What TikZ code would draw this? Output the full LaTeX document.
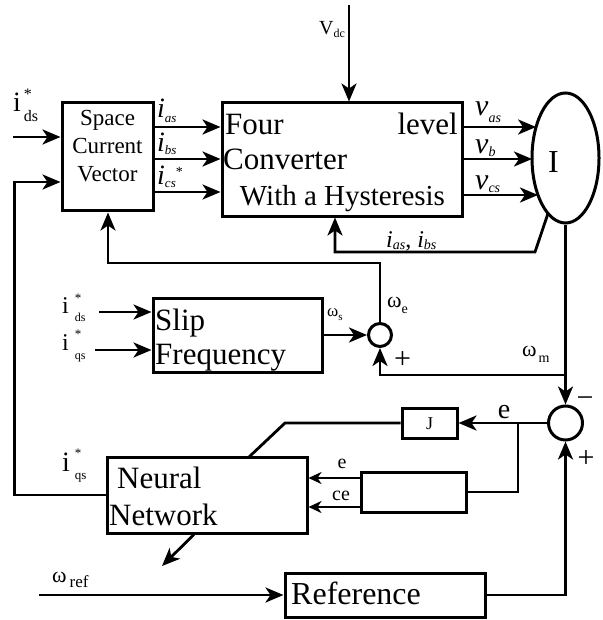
\documentclass[tikz,border=0pt]{standalone}
\usepackage{fontspec}
\setmainfont{Liberation Serif}
\usetikzlibrary{arrows.meta,shapes.geometric,calc}
\newcommand\fsz[1]{\fontsize{#1}{#1}\selectfont}
\begin{document}
\begin{tikzpicture}[x=1pt,y=-1pt,
  ln/.style={line width=2.8pt},
  arr/.style={ln,-{Stealth[length=18pt,width=15pt,inset=5pt]}},
  sarr/.style={ln,-{Stealth[length=13pt,width=12pt,inset=4pt]}},
  blk/.style={draw,line width=3pt,inner sep=0pt},
  txt/.style={inner sep=0pt,anchor=base west},
  ctxt/.style={inner sep=0pt,anchor=base},
  rtxt/.style={inner sep=0pt,anchor=base east}]
\useasboundingbox (0,0) rectangle (602,620);

% blocks
\node[blk,minimum width=91pt,minimum height=108pt] (scv) at (107.5,157) {};
\node[blk,minimum width=240pt,minimum height=113pt] (conv) at (342,159.5) {};
\node[blk,ellipse,minimum width=67pt,minimum height=130pt] (motor) at (565.5,158) {};
\node[blk,minimum width=169pt,minimum height=74pt] (slip) at (237.5,335) {};
\node[blk,circle,minimum size=23pt] (sum1) at (380,335) {};
\node[blk,circle,minimum size=34pt] (sum2) at (565.5,423) {};
\node[blk,minimum width=55pt,minimum height=30pt] (jbox) at (429.5,423) {};
\node[blk,minimum width=105pt,minimum height=40pt] (fbox) at (413.5,492) {};
\node[blk,minimum width=200pt,minimum height=76pt] (nn) at (207,495) {};
\node[blk,minimum width=200pt,minimum height=44pt] (ref) at (385,595) {};

% texts in blocks
\node[ctxt] (s1) at (107.5,126) {\fsz{23}Space};
\node[ctxt] (s2) at (107.5,154) {\fsz{23}Current};
\node[ctxt] (s3) at (107.5,182) {\fsz{23}Vector};
\node[txt] (c1) at (225,135) {\fsz{31}Four};
\node[rtxt] (c2) at (458,135) {\fsz{31}level};
\node[txt] (c3) at (223,170) {\fsz{31}Converter};
\node[ctxt] (c4) at (342.5,205) {\fsz{29}With a Hysteresis};
\node[ctxt] (mI) at (553.5,173) {\fsz{32}I};
\node[txt] (sl1) at (155,330) {\fsz{31}Slip};
\node[txt] (sl2) at (155,364) {\fsz{31}Frequency};
\node[txt] (n1) at (117,488) {\fsz{31}Neural};
\node[txt] (n2) at (109,525) {\fsz{31}Network};
\node[txt] (r1) at (291,604) {\fsz{32}Reference};
\node[ctxt] (jt) at (429.5,429.5) {\fsz{18}J};

% labels
\node[txt] (lids) at (13,112) {\fsz{28}i\hspace{3pt}\rlap{\raisebox{12pt}{\fsz{16}*}}\raisebox{-10pt}{\fsz{16}ds}};
\node[txt] (vdc) at (319,35) {\fsz{20}V\raisebox{-3pt}{\fsz{12}dc}};
\node[txt] (ias) at (157,118) {\fsz{28}\textit{i}\raisebox{-5pt}{\fsz{13}\textit{as}}};
\node[txt] (ibs) at (157,152) {\fsz{28}\textit{i}\raisebox{-3pt}{\fsz{13}\textit{bs}}};
\node[txt] (ics) at (157,185) {\fsz{28}\textit{i}\raisebox{-3pt}{\fsz{13}\textit{cs}}\raisebox{8pt}{\fsz{14}*}};
\node[txt] (vas) at (475,116) {\fsz{30}\textit{v}\raisebox{-7pt}{\fsz{14}\textit{as}}};
\node[txt] (vb) at (475,154) {\fsz{30}\textit{v}\raisebox{-3pt}{\fsz{14}\textit{b}}};
\node[txt] (vcs) at (475,190) {\fsz{30}\textit{v}\raisebox{-2pt}{\fsz{14}\textit{cs}}};
\node[txt] (ifb) at (386,247) {\fsz{24}\textit{i}\raisebox{-2pt}{\fsz{14}\textit{as}}\fsz{24}, \textit{i}\raisebox{-2pt}{\fsz{14}\textit{bs}}};
\node[txt] (sids) at (62,313) {\fsz{24}i\hspace{6pt}\rlap{\raisebox{11pt}{\fsz{13}*}}\raisebox{-8pt}{\fsz{12}ds}};
\node[txt] (siqs) at (62,350) {\fsz{24}i\hspace{6pt}\rlap{\raisebox{12pt}{\fsz{13}*}}\raisebox{-9pt}{\fsz{12}qs}};
\node[txt] (niqs) at (62,471) {\fsz{28}i\hspace{5pt}\rlap{\raisebox{14pt}{\fsz{13}*}}\raisebox{-8pt}{\fsz{13}qs}};
\node[txt] (ws) at (327,316) {\fsz{17}ω\raisebox{-4pt}{\fsz{11}s}};
\node[txt] (we) at (387,307) {\fsz{22}ω\raisebox{-6pt}{\fsz{14}e}};
\node[txt] (wm) at (522,356) {\fsz{22}ω\hspace{2pt}\raisebox{-6pt}{\fsz{14}m}};
\node[txt] (wref) at (52,582) {\fsz{22}ω\hspace{3pt}\raisebox{-5pt}{\fsz{17}ref}};
\node[ctxt] (ebig) at (504,418) {\fsz{28}e};
\node[ctxt] (esm) at (342,468) {\fsz{20}e};
\node[ctxt] (ce) at (341,500) {\fsz{20}ce};
\node[ctxt] (p1) at (402.5,368) {\fsz{30}+};
\node[ctxt] (p2) at (586,467.5) {\fsz{30}+};
\node[ctxt] (m1) at (585,407.5) {\fsz{30}−};

% coordinates
\coordinate (vdctop) at (349,5);
\coordinate (idsin) at (13,137);
\coordinate (sdin) at (99,312);
\coordinate (sqin) at (95,350);
\coordinate (lc1) at (14.5,495);
\coordinate (lc2) at (14.5,182);
\coordinate (mA) at (536.1,127);
\coordinate (mB) at (532,159);
\coordinate (mC) at (538,195);
\coordinate (fb1) at (548,213.4);
\coordinate (fb2) at (535,252);
\coordinate (fb3) at (335,252);
\coordinate (wel) at (108,263);
\coordinate (wmp) at (565.5,375);
\coordinate (br) at (518,423);
\coordinate (jk) at (285,423);
\coordinate (jn) at (249,457);
\coordinate (no2) at (162,566);
\coordinate (wr) at (39,595);

% connectors
\draw[arr] (vdctop) -- (vdctop |- conv.north);
\draw[arr] (idsin) -- (idsin -| scv.west);
\draw[arr] (sdin) -- (sdin -| slip.west);
\draw[arr] (sqin) -- (sqin -| slip.west);
\draw[arr] (nn.west) -- (lc1) -- (lc2) -- (lc2 -| scv.west);
\draw[arr] ([yshift=30pt]scv.east) -- ([yshift=30pt]scv.east -| conv.west);
\draw[arr] ([yshift=-2pt]scv.east) -- ([yshift=-2pt]scv.east -| conv.west);
\draw[arr] ([yshift=-35pt]scv.east) -- ([yshift=-35pt]scv.east -| conv.west);
\draw[arr] (mA -| conv.east) -- (mA);
\draw[arr] (mB -| conv.east) -- (mB);
\draw[arr] (mC -| conv.east) -- (mC);
\draw[arr] (fb1) -- (fb2) -- (fb3) -- (fb3 |- conv.south);
\draw[arr] (sum1.north) -- (sum1.north |- wel) -- (wel) -- (wel |- scv.south);
\draw[arr] (slip.east) -- (sum1.west);
\draw[arr] (motor.south) -- (sum2.north);
\draw[arr] (wmp) -- (wmp -| sum1.south) -- (sum1.south);
\draw[arr] (sum2.west) -- (jbox.east);
\draw[ln] (br) -- (br |- fbox.east) -- (fbox.east);
\draw[sarr] ([yshift=14pt]fbox.west) -- ([yshift=14pt]fbox.west -| nn.east);
\draw[sarr] ([yshift=-15pt]fbox.west) -- ([yshift=-15pt]fbox.west -| nn.east);
\draw[ln] (jbox.west) -- (jk) -- (jn);
\draw[arr] ([xshift=-13pt]nn.south) -- (no2);
\draw[arr] (wr) -- (ref.west);
\draw[arr] (ref.east) -- (ref.east -| sum2.south) -- (sum2.south);
\end{tikzpicture}
\end{document}
